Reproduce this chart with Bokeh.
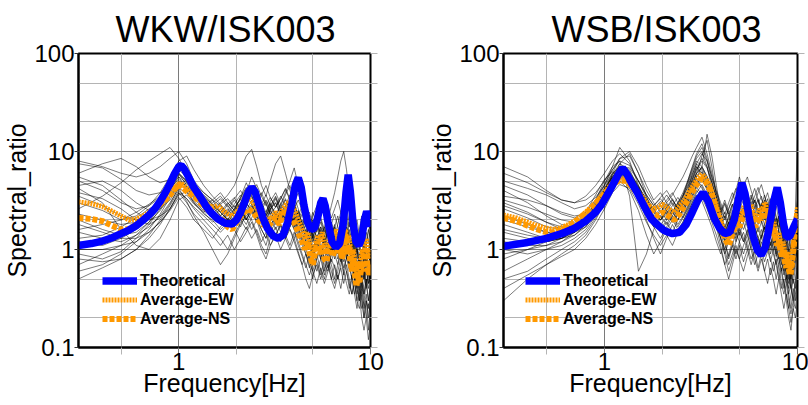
from bokeh.plotting import figure
from bokeh.models import (Range1d, FixedTicker, LogAxis, CustomJSTickFormatter,
                          Legend, LegendItem)
from bokeh.layouts import row
from bokeh.embed import file_html
from bokeh.resources import INLINE

# ---------------- data ----------------
TITLES = ["WKW/ISK003", "WSB/ISK003"]
X_LABEL = "Frequency[Hz]"
Y_LABEL = "Spectral_ratio"
X_TICKS = [1, 10]
X_TICK_LABELS = ["1", "10"]
X_MINOR = [0.5, 2, 5]
Y_TICKS = [0.1, 1, 10, 100]
Y_TICK_LABELS = ["0.1", "1", "10", "100"]
Y_MINOR = [0.2, 0.5, 2, 5, 20, 50]
LEGEND_LABELS = ["Theoretical", "Average-EW", "Average-NS"]

# theoretical transfer functions
WKW_THEO_F = [0.30, 0.35, 0.40, 0.45, 0.50, 0.55, 0.60, 0.65, 0.70, 0.75, 0.80, 0.85, 0.90, 0.95,
              1.00, 1.03, 1.07, 1.12, 1.20, 1.30, 1.40, 1.50, 1.60, 1.75, 1.90, 2.00, 2.10, 2.20,
              2.30, 2.40, 2.50, 2.60, 2.75, 2.90, 3.10, 3.30, 3.50, 3.70, 3.90, 4.05, 4.20, 4.35,
              4.50, 4.70, 4.90, 5.10, 5.30, 5.50, 5.65, 5.80, 6.00, 6.30, 6.60, 6.90, 7.20, 7.45,
              7.65, 7.85, 8.10, 8.40, 8.70, 9.00, 9.30, 9.55, 9.80, 10.0]
WKW_THEO_V = [1.10, 1.15, 1.22, 1.32, 1.45, 1.58, 1.75, 1.98, 2.25, 2.6, 3.1, 3.8, 4.7, 5.9,
              7.0, 7.2, 6.6, 5.6, 4.3, 3.4, 2.7, 2.3, 2.05, 1.85, 1.82, 2.0, 2.4, 3.0,
              3.8, 4.3, 3.9, 3.0, 2.1, 1.65, 1.38, 1.3, 1.4, 1.9, 3.0, 4.5, 5.4, 4.3,
              2.8, 1.9, 1.6, 1.65, 2.1, 3.0, 3.3, 2.8, 1.9, 1.2, 1.05, 1.15, 1.8, 3.8,
              5.8, 3.9, 1.9, 1.2, 1.1, 1.3, 2.0, 2.45, 2.1, 1.7]

WSB_THEO_F = [0.30, 0.40, 0.50, 0.60, 0.70, 0.80, 0.90, 0.97, 1.05, 1.12, 1.19, 1.24, 1.30, 1.38,
              1.48, 1.60, 1.75, 1.90, 2.05, 2.25, 2.45, 2.65, 2.85, 3.05, 3.25, 3.45, 3.70, 3.95,
              4.20, 4.45, 4.70, 4.95, 5.15, 5.35, 5.60, 5.90, 6.20, 6.50, 6.80, 7.10, 7.50, 7.85,
              8.15, 8.45, 8.75, 9.10, 9.50, 10.0]
WSB_THEO_V = [1.08, 1.18, 1.30, 1.45, 1.65, 1.95, 2.4, 2.9, 3.8, 4.8, 6.0, 6.8, 6.0, 4.8,
              3.8, 2.8, 2.05, 1.75, 1.55, 1.45, 1.5, 1.8, 2.4, 3.2, 3.8, 3.1, 2.1, 1.65,
              1.45, 1.5, 2.0, 3.3, 4.8, 3.7, 2.2, 1.35, 0.98, 0.88, 1.05, 1.6, 3.0, 4.3,
              3.0, 1.85, 1.35, 1.35, 1.65, 2.05]

# averaged observed ratios
AVG_F = [0.30, 0.35, 0.40, 0.45, 0.50, 0.55, 0.60, 0.65, 0.70, 0.75, 0.80, 0.85, 0.90, 0.95,
         1.00, 1.05, 1.10, 1.20, 1.30, 1.40, 1.50, 1.60, 1.70, 1.80, 1.90, 2.00, 2.15, 2.30,
         2.45, 2.60, 2.75, 2.90, 3.05, 3.20, 3.35, 3.50, 3.65, 3.80, 3.95, 4.10, 4.25, 4.40,
         4.55, 4.70, 4.85, 5.00, 5.15, 5.30, 5.45, 5.60, 5.75, 5.90, 6.05, 6.20, 6.35, 6.50,
         6.65, 6.80, 6.95, 7.10, 7.25, 7.40, 7.55, 7.70, 7.85, 8.00, 8.15, 8.30, 8.45, 8.60,
         8.75, 8.90, 9.05, 9.20, 9.35, 9.50, 9.65, 9.80, 10.0]
WKW_EW = [3.05, 2.95, 2.75, 2.45, 2.2, 2.0, 2.05, 2.2, 2.4, 2.6, 2.9, 3.3, 3.7, 4.2,
          4.7, 4.6, 4.2, 3.6, 3.2, 2.9, 2.7, 2.8, 2.5, 2.3, 2.2, 2.4, 2.9, 3.3,
          3.0, 2.5, 2.2, 2.0, 2.1, 2.4, 2.2, 2.6, 2.9, 3.1, 2.7, 2.3, 1.9, 1.6,
          1.3, 1.5, 1.1, 0.8, 1.1, 1.4, 1.2, 1.5, 1.1, 0.9, 1.2, 1.4, 1.1, 1.3,
          1.6, 1.2, 1.4, 1.1, 1.3, 1.6, 1.2, 1.4, 1.0, 0.8, 1.0, 0.7, 0.55, 0.75,
          0.6, 0.8, 1.0, 0.8, 1.1, 1.3, 1.0, 0.8, 1.0]
WKW_NS = [2.1, 2.05, 1.95, 1.75, 1.6, 1.62, 1.8, 2.0, 2.3, 2.6, 2.9, 3.2, 3.6, 4.1,
          4.6, 4.3, 3.9, 3.5, 3.0, 2.6, 2.3, 2.1, 2.0, 1.7, 1.6, 1.9, 2.3, 2.6,
          2.4, 2.0, 1.8, 1.7, 1.9, 2.1, 1.8, 2.3, 2.6, 2.3, 2.0, 1.7, 1.4, 1.2,
          1.0, 1.2, 0.85, 0.7, 0.95, 1.2, 0.9, 1.1, 0.8, 0.75, 1.0, 1.1, 0.85, 1.0,
          1.3, 0.9, 1.1, 0.8, 1.0, 1.3, 0.9, 1.1, 0.75, 0.6, 0.8, 0.55, 0.42, 0.55,
          0.45, 0.6, 0.75, 0.6, 0.8, 1.0, 0.7, 0.55, 0.7]
WSB_EW = [2.25, 2.1, 1.9, 1.75, 1.65, 1.6, 1.68, 1.8, 1.95, 2.15, 2.4, 2.7, 3.0, 3.4,
          3.8, 4.3, 4.8, 5.4, 5.2, 4.5, 3.8, 3.3, 2.8, 2.6, 2.7, 2.9, 2.6, 2.4,
          2.8, 3.2, 3.9, 4.6, 5.4, 5.9, 5.3, 4.6, 3.6, 2.8, 2.2, 1.7, 1.4, 1.25,
          1.6, 1.9, 2.2, 2.0, 2.4, 2.8, 3.0, 2.6, 2.9, 2.3, 2.0, 2.2, 2.6, 2.4,
          2.8, 3.0, 2.5, 2.2, 1.9, 1.7, 1.9, 1.5, 1.3, 1.5, 1.2, 1.0, 1.2, 0.9,
          0.8, 0.95, 0.7, 0.6, 0.8, 1.1, 1.5, 2.0, 2.7]
WSB_NS = [2.1, 1.95, 1.75, 1.6, 1.5, 1.5, 1.6, 1.72, 1.9, 2.1, 2.35, 2.6, 2.95, 3.3,
          3.7, 4.1, 4.6, 5.1, 5.0, 4.3, 3.6, 3.0, 2.6, 2.3, 2.2, 2.4, 2.2, 2.0,
          2.3, 2.8, 3.4, 4.1, 4.8, 5.3, 4.9, 4.2, 3.3, 2.5, 1.9, 1.5, 1.25, 1.1,
          1.35, 1.6, 1.9, 1.7, 2.0, 2.4, 2.6, 2.2, 2.5, 1.9, 1.7, 1.9, 2.2, 2.0,
          2.4, 2.6, 2.1, 1.8, 1.6, 1.4, 1.6, 1.25, 1.1, 1.25, 1.0, 0.85, 1.0, 0.75,
          0.65, 0.8, 0.6, 0.55, 0.7, 0.95, 1.3, 1.8, 2.4]

# individual records (thin black lines)
REC_F = [0.30, 0.40, 0.50, 0.60, 0.70, 0.80, 0.90, 1.00, 1.10, 1.20,
         1.35, 1.50, 1.65, 1.80, 1.95, 2.10, 2.25, 2.40, 2.55, 2.70,
         2.85, 3.00, 3.20, 3.40, 3.60, 3.80, 4.00, 4.20, 4.40, 4.60,
         4.80, 5.00, 5.25, 5.50, 5.75, 6.00, 6.25, 6.50, 6.75, 7.00,
         7.25, 7.50, 7.75, 8.00, 8.25, 8.50, 8.75, 9.00, 9.25, 9.50,
         9.75, 10.0]
WKW_RECORDS = [
    [7.5, 6.8, 5.2, 4.0, 3.6, 3.8, 4.5, 5.5, 4.2, 3.5, 2.8, 3.2, 2.4, 2.0, 2.6, 3.4, 4.8, 3.6, 2.5, 1.9,
     2.4, 3.0, 2.2, 2.8, 3.6, 4.5, 3.1, 2.2, 1.7, 1.4, 1.9, 1.3, 1.0, 1.6, 1.2, 0.9, 1.4, 1.8, 1.3, 1.0,
     1.6, 2.1, 1.4, 0.9, 1.2, 0.7, 0.5, 0.8, 1.1, 0.7, 0.9, 1.2],
    [6.0, 7.5, 8.5, 7.0, 5.5, 4.8, 5.2, 6.0, 4.5, 3.8, 3.2, 2.5, 2.9, 2.3, 1.8, 2.2, 2.7, 3.9, 3.0, 2.1,
     1.7, 2.5, 3.3, 2.4, 2.0, 2.9, 3.5, 2.6, 1.8, 1.2, 1.0, 1.5, 1.1, 0.8, 1.3, 1.7, 1.2, 0.9, 1.5, 1.1,
     0.8, 1.2, 1.6, 1.1, 0.7, 0.5, 0.7, 0.4, 0.6, 0.9, 0.6, 0.5],
    [4.2, 3.0, 1.6, 1.1, 1.0, 1.3, 2.0, 3.2, 3.6, 2.9, 2.4, 1.9, 2.2, 2.6, 2.1, 1.7, 2.4, 2.9, 2.2, 1.6,
     1.3, 1.8, 2.1, 1.5, 1.9, 2.4, 1.8, 1.4, 1.1, 0.9, 0.7, 0.5, 0.8, 1.0, 0.7, 0.6, 0.9, 1.1, 0.8, 1.0,
     1.3, 0.9, 0.7, 0.5, 0.6, 0.4, 0.3, 0.45, 0.35, 0.5, 0.4, 0.55],
    [0.9, 0.8, 0.95, 1.3, 1.8, 2.6, 4.0, 5.8, 5.0, 4.1, 3.3, 2.7, 2.2, 2.9, 3.4, 2.6, 3.1, 4.0, 3.5, 2.8,
     2.2, 2.6, 1.9, 2.5, 3.2, 2.7, 2.1, 1.6, 2.0, 1.5, 1.2, 0.9, 1.3, 1.7, 1.4, 1.1, 1.5, 1.2, 0.9, 1.3,
     1.7, 1.2, 1.0, 0.8, 1.0, 0.7, 0.9, 0.6, 0.8, 1.0, 0.7, 0.9],
    [0.5, 0.65, 0.8, 1.0, 1.4, 2.0, 2.8, 4.0, 3.3, 2.6, 2.0, 1.6, 1.3, 1.0, 1.4, 1.9, 2.4, 2.0, 1.5, 1.1,
     0.9, 1.3, 1.7, 1.2, 1.5, 2.0, 1.6, 1.2, 0.9, 0.7, 0.55, 0.7, 0.9, 0.6, 0.45, 0.6, 0.8, 0.65, 0.5, 0.7,
     0.9, 0.6, 0.45, 0.35, 0.5, 0.3, 0.25, 0.35, 0.2, 0.3, 0.25, 0.35],
    [2.6, 3.5, 4.8, 6.5, 8.0, 9.5, 11.0, 8.5, 6.0, 4.5, 3.6, 3.0, 3.5, 2.8, 2.3, 3.0, 3.8, 5.5, 4.2, 3.0,
     2.4, 3.1, 3.8, 2.9, 2.4, 3.2, 2.6, 2.0, 2.5, 1.9, 1.5, 1.2, 1.6, 2.1, 1.6, 1.3, 1.8, 2.3, 1.7, 1.4,
     2.0, 2.6, 1.9, 1.4, 1.1, 0.8, 1.0, 1.3, 0.9, 1.2, 1.6, 1.3],
    [1.5, 1.3, 1.2, 1.4, 1.7, 2.2, 3.0, 4.2, 3.1, 2.2, 1.5, 1.0, 0.7, 0.9, 1.3, 1.8, 2.2, 2.6, 2.0, 1.4,
     1.1, 1.6, 2.2, 1.7, 1.3, 1.7, 2.1, 1.5, 1.2, 0.9, 0.75, 0.6, 0.85, 1.1, 0.8, 0.65, 0.9, 1.2, 0.95, 0.75,
     1.0, 1.4, 1.0, 0.7, 0.55, 0.4, 0.5, 0.35, 0.45, 0.6, 0.45, 0.6],
    [3.5, 2.8, 2.2, 2.0, 2.3, 2.9, 3.8, 5.0, 4.4, 3.7, 3.0, 2.6, 3.0, 3.6, 4.5, 6.5, 9.0, 10.5, 7.0, 4.5,
     3.5, 5.0, 7.5, 9.0, 6.0, 4.0, 3.0, 3.8, 2.7, 2.0, 1.6, 2.2, 2.8, 2.0, 1.5, 2.0, 2.8, 3.8, 5.5, 8.0,
     10.0, 6.5, 3.5, 2.2, 1.6, 1.2, 1.6, 2.2, 1.5, 1.1, 1.5, 1.9],
    [5.5, 4.5, 3.2, 2.4, 2.0, 2.2, 2.6, 3.6, 3.9, 3.0, 2.3, 2.0, 1.6, 1.9, 2.4, 2.0, 1.6, 2.1, 2.7, 2.3,
     1.8, 1.5, 1.9, 2.5, 2.0, 1.6, 1.3, 1.7, 1.3, 1.0, 0.8, 1.1, 0.75, 0.55, 0.8, 1.0, 0.7, 0.5, 0.7, 0.9,
     0.65, 0.8, 1.1, 0.7, 0.5, 0.35, 0.45, 0.3, 0.2, 0.3, 0.15, 0.25],
    [1.2, 1.1, 1.3, 1.6, 2.2, 3.2, 4.6, 6.5, 5.5, 4.6, 3.8, 3.2, 2.8, 2.4, 2.9, 3.6, 3.0, 2.5, 3.1, 3.8,
     2.9, 2.3, 2.7, 3.3, 4.1, 3.2, 2.5, 2.0, 1.6, 2.0, 1.6, 1.3, 1.8, 1.4, 1.1, 1.5, 1.9, 1.5, 1.1, 1.5,
     1.2, 1.6, 1.3, 1.0, 0.8, 1.0, 0.75, 0.9, 1.2, 0.8, 1.0, 0.7],
    [0.7, 0.9, 1.1, 1.2, 1.5, 1.9, 2.5, 3.4, 2.7, 2.0, 1.6, 1.3, 1.7, 2.1, 1.6, 1.2, 1.5, 1.9, 1.4, 1.0,
     0.8, 1.1, 1.4, 1.0, 1.3, 1.6, 1.2, 0.9, 0.7, 0.5, 0.4, 0.55, 0.7, 0.5, 0.65, 0.8, 0.6, 0.45, 0.6, 0.8,
     0.55, 0.7, 0.5, 0.35, 0.45, 0.3, 0.4, 0.25, 0.3, 0.2, 0.28, 0.22],
    [3.0, 2.5, 2.0, 2.2, 2.8, 3.8, 5.5, 8.0, 9.0, 6.5, 4.5, 3.5, 2.9, 3.3, 2.7, 3.2, 4.2, 3.4, 2.6, 2.9,
     3.6, 2.8, 2.2, 2.9, 3.8, 5.0, 6.8, 4.5, 3.0, 2.3, 1.8, 2.4, 1.8, 1.3, 1.7, 2.2, 1.7, 1.3, 1.8, 2.4,
     1.8, 1.4, 1.9, 1.4, 1.0, 1.4, 1.1, 0.8, 1.1, 1.5, 1.2, 1.6],
    [2.0, 1.6, 1.4, 1.5, 1.9, 2.5, 3.5, 5.0, 4.0, 3.1, 2.5, 2.1, 2.6, 2.0, 1.7, 2.3, 3.0, 2.4, 1.9, 2.5,
     3.1, 2.3, 1.8, 2.6, 2.1, 1.7, 2.2, 1.6, 1.2, 1.6, 1.1, 0.8, 1.2, 0.9, 0.6, 0.9, 1.3, 0.9, 0.7, 1.1,
     0.8, 1.1, 0.7, 0.5, 0.8, 0.55, 0.35, 0.5, 0.3, 0.45, 0.3, 0.4],
    [0.6, 0.7, 0.9, 1.2, 1.6, 2.3, 3.4, 4.8, 4.2, 3.3, 2.6, 2.2, 1.8, 2.3, 2.8, 2.2, 1.8, 2.4, 3.2, 2.6,
     2.0, 2.6, 3.0, 2.2, 2.7, 2.1, 1.6, 2.1, 1.5, 1.2, 1.5, 1.0, 1.4, 1.1, 0.8, 1.2, 0.9, 1.3, 1.0, 0.8,
     1.2, 0.9, 0.65, 0.9, 0.6, 0.45, 0.6, 0.45, 0.6, 0.4, 0.55, 0.45],
    [8.0, 7.0, 6.0, 5.5, 6.0, 7.0, 8.5, 10.0, 7.5, 5.0, 3.8, 3.2, 3.8, 3.0, 2.5, 3.4, 4.3, 3.5, 2.8, 3.6,
     4.5, 3.4, 2.7, 3.5, 2.8, 2.2, 2.9, 2.1, 1.7, 2.3, 1.8, 1.3, 1.9, 1.5, 1.1, 1.6, 1.2, 1.7, 2.2, 1.6,
     1.2, 1.7, 1.3, 0.9, 1.3, 1.0, 0.7, 1.0, 0.75, 1.1, 0.8, 1.0],
    [1.8, 1.5, 1.3, 1.3, 1.5, 1.9, 2.6, 3.8, 3.3, 2.7, 2.2, 1.8, 1.5, 1.8, 2.2, 2.7, 2.1, 1.6, 2.0, 1.6,
     1.3, 1.8, 1.4, 1.8, 1.4, 1.1, 1.5, 1.1, 0.85, 0.65, 0.9, 0.6, 0.45, 0.65, 0.5, 0.7, 0.5, 0.4, 0.55, 0.4,
     0.6, 0.45, 0.35, 0.5, 0.35, 0.25, 0.35, 0.2, 0.15, 0.2, 0.12, 0.18],
    [4.5, 5.0, 4.0, 3.0, 2.5, 2.6, 3.2, 4.4, 5.2, 4.0, 3.1, 2.4, 2.0, 2.5, 3.2, 2.5, 2.0, 2.8, 2.2, 1.8,
     2.3, 2.9, 2.3, 1.9, 2.5, 3.3, 2.4, 1.8, 2.3, 1.7, 1.3, 1.7, 1.3, 1.0, 1.4, 1.0, 0.75, 1.0, 1.4, 1.0,
     0.75, 1.0, 0.7, 0.9, 0.65, 0.5, 0.7, 0.5, 0.65, 0.45, 0.6, 0.8],
    [1.0, 1.0, 1.1, 1.4, 1.9, 2.8, 4.2, 6.0, 5.0, 4.0, 3.4, 2.9, 2.4, 2.0, 2.5, 3.0, 3.6, 2.9, 2.3, 2.8,
     2.2, 2.7, 3.4, 2.6, 2.0, 2.4, 1.9, 2.4, 1.8, 1.4, 1.8, 1.4, 1.0, 1.3, 1.7, 1.3, 1.0, 1.3, 1.0, 1.3,
     0.95, 1.2, 0.9, 1.2, 0.85, 0.6, 0.8, 0.6, 0.8, 0.55, 0.7, 0.55],
    [3.8, 3.3, 2.6, 2.0, 1.8, 2.1, 2.9, 4.3, 4.8, 3.6, 2.7, 2.3, 2.8, 2.2, 2.6, 3.3, 2.5, 3.2, 2.4, 2.9,
     2.2, 2.8, 3.5, 2.6, 3.3, 2.5, 1.9, 2.5, 1.8, 2.2, 1.5, 1.9, 1.3, 1.7, 1.2, 1.5, 1.0, 1.4, 1.0, 1.5,
     1.1, 1.5, 1.0, 1.3, 0.8, 1.1, 0.6, 0.9, 0.5, 0.8, 0.6, 0.9],
    [1.3, 1.4, 1.7, 2.1, 2.6, 3.0, 3.6, 4.2, 3.8, 3.0, 2.4, 2.9, 2.2, 1.7, 2.1, 2.6, 2.0, 2.5, 1.9, 2.3,
     1.8, 2.2, 1.6, 2.0, 2.5, 1.8, 2.3, 1.7, 1.3, 1.0, 1.3, 0.9, 1.2, 0.8, 1.1, 0.8, 1.1, 0.8, 1.2, 0.85,
     0.6, 0.85, 0.6, 0.8, 0.5, 0.65, 0.4, 0.55, 0.35, 0.5, 0.3, 0.45],
    [2.3, 2.0, 1.8, 1.9, 2.3, 3.0, 4.0, 5.5, 4.8, 4.0, 3.3, 2.8, 3.3, 2.7, 3.3, 4.0, 3.2, 3.8, 4.6, 3.5,
     2.8, 3.4, 2.7, 3.3, 4.2, 3.3, 2.6, 3.2, 2.5, 1.9, 2.4, 1.8, 2.3, 2.9, 2.2, 2.8, 2.1, 2.6, 3.2, 2.4,
     3.0, 2.3, 1.7, 2.2, 1.6, 2.0, 1.4, 1.8, 1.3, 1.7, 2.1, 1.6],
    [0.8, 0.75, 0.8, 1.0, 1.3, 1.8, 2.6, 3.8, 3.0, 2.3, 1.8, 1.4, 1.1, 1.4, 1.0, 1.3, 1.7, 1.3, 1.6, 1.2,
     1.5, 1.1, 1.4, 1.8, 1.3, 1.0, 1.3, 0.95, 0.7, 0.9, 0.65, 0.85, 0.6, 0.8, 0.55, 0.75, 0.5, 0.7, 0.5, 0.65,
     0.45, 0.6, 0.4, 0.55, 0.35, 0.45, 0.3, 0.4, 0.25, 0.35, 0.2, 0.3],
    [5.0, 4.0, 3.0, 2.6, 2.8, 3.4, 4.4, 6.0, 5.0, 4.2, 3.5, 2.9, 2.4, 3.0, 2.5, 2.9, 3.6, 4.4, 3.4, 2.7,
     3.2, 2.6, 3.0, 2.3, 2.8, 3.6, 2.9, 2.2, 2.8, 2.1, 1.6, 2.0, 1.5, 1.9, 1.4, 1.8, 1.3, 1.7, 1.2, 1.8,
     2.4, 1.7, 1.3, 1.6, 1.2, 0.9, 1.2, 0.8, 1.1, 0.7, 1.0, 1.3],
    [1.6, 1.8, 2.0, 2.4, 2.9, 3.5, 4.2, 5.2, 4.4, 3.4, 2.7, 2.2, 1.9, 2.4, 1.9, 2.4, 2.0, 2.6, 2.1, 2.7,
     2.0, 2.5, 1.9, 2.3, 1.8, 2.2, 1.7, 2.0, 1.5, 1.8, 1.3, 1.0, 1.3, 1.0, 1.3, 0.9, 1.2, 0.9, 1.2, 0.9,
     1.1, 0.8, 1.1, 0.75, 0.55, 0.75, 0.55, 0.7, 0.5, 0.7, 0.45, 0.6],
]
WSB_RECORDS = [
    [7.0, 5.5, 4.0, 3.2, 3.0, 3.5, 4.5, 6.0, 8.0, 9.5, 7.5, 5.0, 3.6, 2.8, 3.4, 4.0, 3.2, 2.6, 3.5, 5.0,
     7.0, 9.5, 12.0, 8.5, 5.5, 3.8, 2.6, 2.0, 2.6, 3.4, 4.2, 3.3, 4.5, 5.5, 4.0, 3.0, 3.8, 4.6, 3.5, 2.6,
     3.3, 2.4, 1.8, 2.2, 1.6, 1.2, 1.0, 0.8, 1.1, 1.4, 1.9, 2.6],
    [5.0, 4.2, 3.6, 3.0, 2.6, 2.8, 3.4, 4.5, 6.0, 7.0, 6.0, 4.4, 3.2, 2.5, 2.2, 2.7, 3.3, 2.6, 2.9, 3.8,
     5.0, 6.5, 8.0, 6.8, 4.8, 3.4, 2.4, 1.7, 2.2, 2.9, 2.4, 3.0, 3.6, 2.8, 2.2, 2.7, 3.2, 2.5, 2.0, 2.6,
     2.0, 1.6, 2.1, 1.5, 1.1, 0.85, 1.1, 0.7, 0.5, 0.7, 1.0, 1.4],
    [3.0, 2.4, 1.9, 1.6, 1.5, 1.7, 2.3, 3.4, 5.0, 7.5, 9.5, 6.0, 3.5, 2.2, 1.8, 2.1, 2.6, 2.2, 2.5, 3.0,
     4.0, 5.5, 7.0, 15.0, 9.0, 4.5, 2.5, 1.5, 1.9, 2.5, 2.0, 2.6, 3.2, 2.4, 1.8, 2.3, 2.9, 3.5, 2.6, 2.0,
     1.6, 2.0, 1.5, 1.1, 1.3, 0.9, 0.7, 0.5, 0.65, 0.9, 1.2, 1.8],
    [1.5, 1.3, 1.2, 1.3, 1.6, 2.1, 3.0, 4.2, 5.5, 6.5, 5.5, 3.8, 2.6, 2.0, 2.4, 2.9, 2.4, 2.0, 2.6, 3.4,
     4.4, 5.6, 6.2, 5.0, 3.6, 2.6, 1.9, 1.4, 1.8, 2.3, 1.9, 2.4, 2.0, 2.6, 3.1, 2.4, 1.9, 2.4, 2.9, 2.2,
     1.7, 2.1, 1.6, 1.2, 1.5, 1.1, 0.8, 1.0, 0.7, 0.55, 0.8, 1.1],
    [0.3, 0.5, 0.7, 0.9, 1.1, 1.4, 2.0, 3.0, 4.2, 5.0, 4.0, 2.5, 1.4, 0.9, 1.2, 1.6, 2.0, 1.6, 1.9, 2.5,
     3.2, 4.0, 3.4, 2.6, 1.9, 1.4, 1.0, 0.7, 0.9, 1.2, 0.9, 1.2, 1.5, 1.1, 0.8, 1.0, 1.3, 1.0, 0.75, 0.95,
     1.2, 0.9, 0.7, 0.5, 0.65, 0.45, 0.35, 0.25, 0.35, 0.5, 0.4, 0.6],
    [0.6, 0.8, 1.0, 1.1, 1.3, 1.6, 2.2, 3.2, 4.8, 6.0, 5.2, 3.4, 2.0, 1.3, 0.9, 1.3, 1.8, 1.4, 1.7, 2.3,
     3.0, 3.8, 4.6, 3.6, 2.6, 1.7, 1.1, 0.7, 0.5, 0.7, 1.0, 0.8, 1.1, 1.4, 1.0, 0.7, 0.9, 1.2, 0.9, 1.1,
     0.8, 0.6, 0.8, 0.55, 0.4, 0.5, 0.3, 0.2, 0.15, 0.25, 0.35, 0.5],
    [1.0, 0.9, 1.0, 1.2, 1.5, 2.0, 3.2, 5.0, 7.0, 8.0, 3.5, 0.6, 0.9, 1.6, 2.2, 1.8, 2.4, 3.0, 2.4, 3.2,
     4.5, 6.0, 9.0, 13.0, 7.0, 3.5, 2.0, 1.2, 1.5, 2.0, 1.6, 2.1, 2.7, 2.0, 2.6, 3.2, 2.5, 1.9, 2.4, 3.0,
     2.4, 1.9, 1.4, 1.0, 1.2, 0.85, 0.6, 0.75, 0.5, 0.7, 1.0, 0.8],
    [2.0, 1.7, 1.5, 1.5, 1.7, 2.2, 3.0, 4.5, 7.0, 11.0, 8.0, 4.5, 2.8, 2.2, 2.6, 3.2, 3.8, 3.0, 3.6, 4.8,
     6.5, 8.5, 10.0, 7.0, 4.2, 2.8, 1.8, 1.2, 0.8, 1.1, 1.5, 1.2, 0.9, 1.2, 1.6, 1.3, 1.0, 1.3, 1.7, 1.3,
     1.0, 1.3, 0.9, 0.7, 0.9, 0.6, 0.45, 0.6, 0.4, 0.3, 0.45, 0.7],
    [4.0, 3.0, 2.2, 1.8, 1.7, 1.9, 2.6, 3.8, 5.5, 6.5, 5.8, 4.0, 3.0, 2.4, 2.0, 2.3, 2.8, 3.4, 2.8, 3.5,
     4.6, 6.0, 6.8, 5.2, 3.9, 2.8, 2.1, 1.6, 2.1, 2.7, 3.4, 2.6, 2.0, 2.6, 3.3, 4.2, 3.2, 2.5, 3.1, 3.8,
     2.9, 2.2, 2.8, 2.0, 1.5, 1.9, 1.4, 1.0, 1.3, 1.7, 2.3, 3.2],
    [1.2, 1.1, 1.1, 1.3, 1.6, 2.0, 2.8, 4.0, 5.5, 6.8, 6.0, 4.2, 3.0, 2.4, 2.8, 2.3, 1.9, 2.3, 2.9, 3.8,
     5.2, 7.0, 6.0, 4.4, 3.2, 2.2, 1.6, 1.2, 1.5, 1.9, 2.5, 2.0, 1.6, 2.0, 2.5, 1.9, 1.5, 1.9, 1.5, 1.8,
     1.4, 1.0, 1.3, 0.95, 0.7, 0.9, 0.6, 0.4, 0.55, 0.8, 2.5, 15.0],
    [2.6, 2.1, 1.7, 1.6, 1.8, 2.4, 3.6, 5.2, 6.2, 5.5, 4.6, 3.6, 2.9, 2.5, 2.9, 3.6, 2.9, 2.4, 3.0, 4.0,
     5.8, 7.5, 9.5, 8.0, 5.5, 3.8, 2.8, 2.1, 2.6, 3.2, 4.0, 5.5, 4.0, 3.0, 3.6, 2.8, 2.2, 2.8, 3.6, 2.7,
     2.1, 1.6, 1.2, 1.6, 1.2, 0.9, 1.2, 0.9, 0.65, 0.9, 1.3, 1.9],
    [0.8, 1.0, 1.2, 1.3, 1.4, 1.7, 2.4, 3.6, 4.5, 5.2, 4.8, 3.2, 2.2, 1.7, 2.0, 2.5, 2.1, 1.7, 2.1, 2.7,
     3.5, 4.5, 5.0, 4.2, 3.0, 2.1, 1.5, 1.0, 0.7, 0.9, 1.2, 1.5, 1.2, 1.5, 1.9, 1.5, 1.1, 1.4, 1.8, 1.4,
     1.1, 1.4, 1.1, 0.8, 0.6, 0.8, 0.55, 0.35, 0.45, 0.3, 0.5, 0.8],
    [2.2, 1.8, 1.5, 1.4, 1.5, 1.9, 2.7, 4.0, 5.8, 7.5, 6.5, 4.2, 2.8, 2.1, 2.5, 2.0, 2.4, 2.9, 3.5, 4.3,
     5.5, 7.0, 5.6, 4.2, 3.0, 2.2, 1.7, 2.2, 1.6, 2.1, 2.7, 2.1, 2.6, 2.0, 1.6, 2.0, 2.5, 2.0, 1.6, 2.0,
     1.5, 1.8, 1.3, 1.0, 1.2, 0.8, 0.6, 0.8, 0.55, 0.8, 1.1, 1.6],
    [0.5, 0.6, 0.8, 1.0, 1.2, 1.5, 2.1, 3.1, 4.4, 5.6, 5.0, 3.6, 2.6, 2.0, 1.6, 2.0, 2.5, 2.0, 2.4, 3.0,
     3.9, 5.0, 4.2, 3.2, 2.4, 1.8, 1.3, 0.9, 1.2, 1.6, 1.3, 1.7, 1.3, 1.0, 1.3, 1.7, 1.3, 1.0, 1.3, 1.0,
     0.75, 1.0, 0.7, 0.9, 0.6, 0.4, 0.55, 0.35, 0.25, 0.4, 0.3, 0.5],
    [6.0, 4.8, 3.8, 3.2, 3.0, 3.2, 3.8, 5.0, 6.5, 8.5, 10.0, 7.0, 4.5, 3.2, 3.8, 3.0, 3.6, 4.5, 5.5, 7.0,
     9.0, 11.0, 14.0, 9.5, 6.0, 4.0, 3.0, 2.3, 3.0, 3.8, 3.0, 3.8, 4.8, 3.6, 2.8, 3.5, 4.3, 3.3, 2.6, 3.3,
     2.5, 3.0, 2.2, 1.7, 2.1, 1.5, 1.1, 1.4, 1.0, 1.3, 1.8, 2.4],
    [1.8, 1.5, 1.3, 1.3, 1.5, 1.8, 2.5, 3.6, 5.0, 6.0, 5.0, 3.4, 2.3, 1.7, 1.3, 1.7, 2.2, 1.8, 2.2, 2.8,
     3.6, 4.6, 5.5, 4.0, 2.8, 1.9, 1.3, 0.9, 0.6, 0.8, 1.1, 0.8, 0.6, 0.85, 1.1, 0.8, 0.6, 0.8, 0.6, 0.45,
     0.65, 0.5, 0.35, 0.5, 0.35, 0.25, 0.35, 0.25, 0.18, 0.25, 0.2, 0.3],
    [3.5, 3.2, 2.8, 2.4, 2.2, 2.3, 2.9, 4.0, 5.8, 7.0, 6.8, 5.0, 3.6, 2.8, 3.3, 2.7, 2.2, 2.8, 3.5, 4.6,
     6.2, 8.0, 7.0, 5.5, 4.2, 3.0, 2.3, 2.9, 2.2, 1.7, 2.2, 2.8, 2.2, 2.9, 2.3, 1.8, 2.3, 2.9, 2.2, 1.7,
     2.1, 1.6, 1.2, 1.5, 1.1, 1.4, 1.0, 0.75, 1.0, 1.3, 1.0, 1.5],
    [1.3, 1.2, 1.2, 1.3, 1.5, 1.9, 2.6, 3.8, 5.2, 6.2, 5.6, 4.2, 3.3, 2.6, 2.1, 2.6, 3.2, 2.6, 2.1, 2.6,
     3.4, 4.3, 3.6, 2.8, 2.2, 1.7, 1.3, 1.0, 1.3, 1.7, 1.4, 1.8, 2.2, 1.7, 1.3, 1.7, 1.3, 1.6, 1.2, 1.5,
     1.1, 1.4, 1.0, 0.8, 1.0, 0.7, 0.5, 0.65, 0.45, 0.6, 0.8, 1.2],
    [4.5, 3.6, 2.8, 2.3, 2.1, 2.4, 3.2, 4.6, 6.5, 8.0, 7.2, 5.0, 3.4, 2.6, 3.1, 2.5, 3.0, 2.5, 3.1, 4.0,
     5.2, 6.6, 8.5, 7.0, 4.8, 3.3, 2.4, 3.0, 2.3, 2.9, 2.2, 2.8, 3.5, 2.7, 3.4, 2.6, 3.3, 2.5, 3.2, 2.4,
     1.8, 2.3, 1.7, 2.2, 1.6, 1.2, 1.5, 1.1, 0.8, 1.1, 1.5, 2.2],
    [0.9, 1.0, 1.1, 1.2, 1.4, 1.8, 2.5, 3.5, 4.8, 5.8, 5.0, 3.5, 2.4, 1.9, 1.5, 1.9, 1.5, 2.0, 2.6, 3.3,
     4.1, 5.2, 4.4, 3.3, 2.5, 1.8, 1.4, 1.8, 1.3, 1.7, 1.2, 1.6, 1.2, 1.6, 1.1, 1.5, 1.1, 1.4, 1.0, 1.3,
     0.9, 1.2, 0.85, 1.1, 0.75, 0.55, 0.7, 0.45, 0.6, 0.45, 0.65, 0.9],
    [3.2, 2.7, 2.3, 2.0, 1.9, 2.1, 2.8, 4.2, 6.0, 8.5, 9.0, 6.0, 4.0, 3.0, 2.4, 3.0, 2.4, 3.0, 3.8, 5.0,
     6.8, 9.0, 11.0, 8.0, 5.0, 3.4, 2.5, 3.2, 2.4, 1.8, 2.4, 3.1, 2.4, 3.2, 2.5, 3.2, 2.4, 3.0, 2.3, 2.9,
     2.2, 2.8, 2.1, 1.6, 2.0, 1.4, 1.8, 1.3, 1.0, 1.4, 1.9, 2.6],
    [0.4, 0.55, 0.7, 0.85, 1.0, 1.3, 1.8, 2.6, 3.8, 4.6, 4.2, 2.9, 1.9, 1.4, 1.1, 1.4, 1.1, 1.5, 1.9, 2.4,
     3.0, 3.6, 3.1, 2.3, 1.7, 1.2, 0.9, 1.2, 0.85, 1.1, 0.8, 1.1, 0.75, 1.0, 0.7, 0.95, 0.65, 0.9, 0.6, 0.8,
     0.55, 0.75, 0.5, 0.7, 0.45, 0.35, 0.45, 0.3, 0.22, 0.3, 0.25, 0.4],
    [2.8, 2.3, 1.9, 1.7, 1.7, 2.0, 2.7, 3.9, 5.4, 6.4, 5.8, 4.3, 3.1, 2.4, 2.0, 2.5, 2.0, 2.6, 3.3, 4.4,
     5.8, 7.5, 6.4, 4.8, 3.5, 2.5, 1.9, 2.4, 1.8, 2.3, 1.8, 2.4, 1.9, 2.5, 1.9, 2.4, 1.8, 2.3, 1.8, 2.3,
     1.7, 2.1, 1.6, 2.0, 1.4, 1.0, 1.3, 0.9, 0.65, 0.9, 1.2, 1.7],
    [1.6, 1.4, 1.3, 1.4, 1.6, 2.0, 2.8, 4.0, 5.6, 7.0, 6.2, 4.5, 3.2, 2.5, 2.0, 2.4, 1.9, 2.3, 2.9, 3.7,
     4.8, 6.0, 7.0, 5.6, 4.0, 2.8, 2.0, 1.5, 1.9, 1.4, 1.9, 1.4, 1.9, 1.4, 1.8, 1.3, 1.7, 1.3, 1.7, 1.2,
     1.6, 1.2, 0.9, 1.2, 0.85, 0.6, 0.8, 0.55, 0.4, 0.55, 0.75, 1.1],
]

# ---------------- style ----------------
FONT = "Liberation Sans"
BLUE = "#0000ff"
ORANGE = "#ff9900"
MAJOR_GRID = "#7a7a7a"
MINOR_GRID = "#b4b4b4"


def make_panel(title, theo_f, theo_v, ew, ns, records, width, b_left, b_right,
               legend_x, title_offset):
    p = figure(width=width, height=405, x_axis_type="log", y_axis_type="log",
               x_range=Range1d(0.3, 10), y_range=Range1d(0.1, 100),
               output_backend="svg", toolbar_location=None,
               min_border_left=b_left, min_border_right=b_right,
               min_border_top=53, min_border_bottom=58,
               background_fill_color="white", border_fill_color="white")
    p.title.text = title
    p.title.text_font = FONT
    p.title.text_font_size = "36px"
    p.title.text_font_style = "normal"
    p.title.align = "left"
    p.title.offset = title_offset
    p.title.standoff = 8
    p.title.text_color = "black"

    p.outline_line_color = "black"
    p.outline_line_width = 2
    p.outline_line_alpha = 1

    # x axis
    xa = p.xaxis[0]
    xa.ticker = FixedTicker(ticks=X_TICKS, minor_ticks=X_MINOR)
    xa.formatter = CustomJSTickFormatter(args=dict(t=X_TICKS, l=X_TICK_LABELS),
                                         code="const i = t.indexOf(tick); return i >= 0 ? l[i] : '';")
    xa.axis_label = X_LABEL
    xa.axis_label_text_font = FONT
    xa.axis_label_text_font_size = "25px"
    xa.axis_label_text_font_style = "normal"
    xa.axis_label_text_color = "black"
    xa.axis_label_standoff = -4
    xa.major_label_text_font = FONT
    xa.major_label_text_font_size = "24px"
    xa.major_label_text_color = "black"
    xa.major_label_standoff = -2
    xa.axis_line_color = "black"
    xa.axis_line_width = 2
    xa.major_tick_in = 0
    xa.major_tick_out = 7
    xa.major_tick_line_color = MAJOR_GRID
    xa.minor_tick_in = 0
    xa.minor_tick_out = 7
    xa.minor_tick_line_color = MINOR_GRID

    # y axis
    ya = p.yaxis[0]
    ya.ticker = FixedTicker(ticks=Y_TICKS, minor_ticks=Y_MINOR)
    ya.formatter = CustomJSTickFormatter(args=dict(t=Y_TICKS, l=Y_TICK_LABELS),
                                         code="const i = t.indexOf(tick); return i >= 0 ? l[i] : '';")
    ya.axis_label = Y_LABEL
    ya.axis_label_text_font = FONT
    ya.axis_label_text_font_size = "25px"
    ya.axis_label_text_font_style = "normal"
    ya.axis_label_text_color = "black"
    ya.axis_label_standoff = 0
    ya.major_label_text_font = FONT
    ya.major_label_text_font_size = "24px"
    ya.major_label_text_color = "black"
    ya.major_label_standoff = 0
    ya.axis_line_color = "black"
    ya.axis_line_width = 2
    ya.major_tick_in = 0
    ya.major_tick_out = 4
    ya.major_tick_line_color = "#333333"
    ya.minor_tick_line_color = None

    # grid
    p.xgrid.grid_line_color = MAJOR_GRID
    p.xgrid.minor_grid_line_color = MINOR_GRID
    p.ygrid.grid_line_color = MAJOR_GRID
    p.ygrid.minor_grid_line_color = MINOR_GRID

    # right-hand tick stubs continuing the grid
    ra = LogAxis(ticker=FixedTicker(ticks=sorted(Y_TICKS + Y_MINOR)),
                 formatter=CustomJSTickFormatter(code="return '';"),
                 axis_line_color=None, major_tick_in=0, major_tick_out=7,
                 major_tick_line_color=MINOR_GRID, minor_tick_line_color=None,
                 major_label_standoff=0, major_label_text_font_size="1px")
    p.add_layout(ra, "right")

    # records
    p.multi_line(xs=[REC_F] * len(records), ys=records, line_color="black",
                 line_alpha=0.62, line_width=0.85)
    r_ew = p.line(AVG_F, ew, line_color=ORANGE, line_width=5, line_dash="2 1")
    r_ns = p.line(AVG_F, ns, line_color=ORANGE, line_width=6, line_dash="5 2")
    r_th = p.line(theo_f, theo_v, line_color=BLUE, line_width=7.5)

    legend = Legend(items=[LegendItem(label=LEGEND_LABELS[0], renderers=[r_th]),
                           LegendItem(label=LEGEND_LABELS[1], renderers=[r_ew]),
                           LegendItem(label=LEGEND_LABELS[2], renderers=[r_ns])],
                    location=(legend_x, 19), orientation="vertical",
                    background_fill_alpha=0, border_line_alpha=0,
                    padding=0, margin=0, spacing=0,
                    glyph_width=35, glyph_height=19, label_height=19,
                    label_standoff=3, label_text_font=FONT,
                    label_text_font_size="16px", label_text_font_style="bold",
                    label_text_color="black")
    p.add_layout(legend)
    return p


p1 = make_panel(TITLES[0], WKW_THEO_F, WKW_THEO_V, WKW_EW, WKW_NS, WKW_RECORDS,
                width=410, b_left=76, b_right=40, legend_x=24, title_offset=37)
p2 = make_panel(TITLES[1], WSB_THEO_F, WSB_THEO_V, WSB_EW, WSB_NS, WSB_RECORDS,
                width=398, b_left=93, b_right=11, legend_x=22, title_offset=48)

layout = row(p1, p2)
open("out.html", "w").write(file_html(layout, INLINE))
